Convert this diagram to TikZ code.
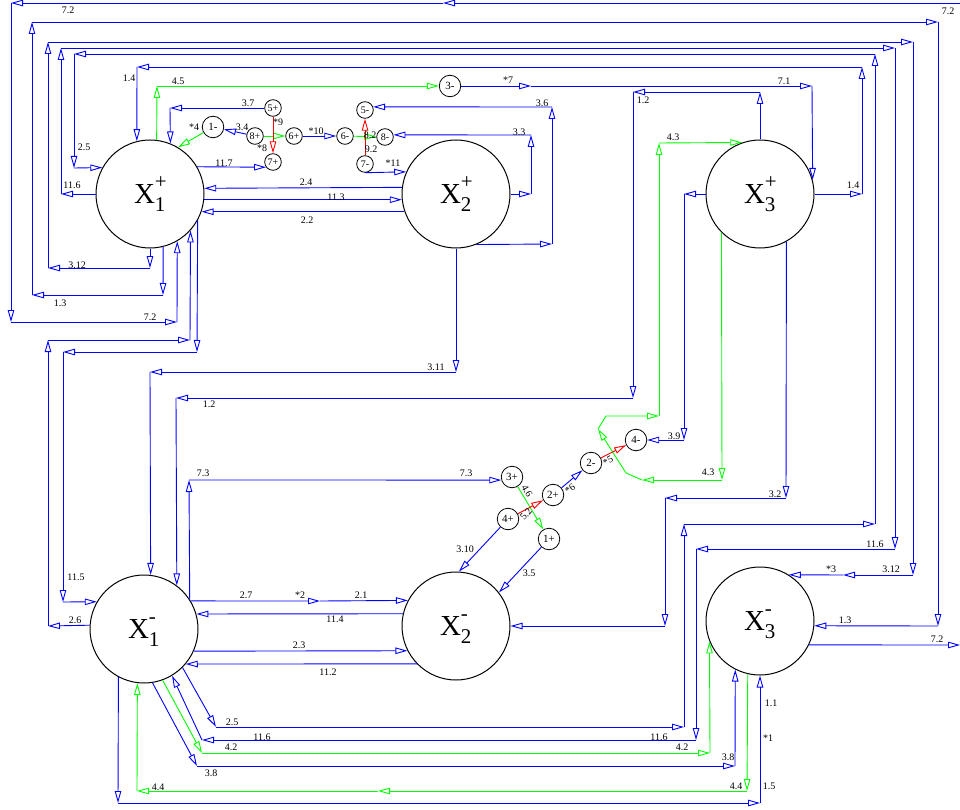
\documentclass[tikz,border=0pt]{standalone}
\usepackage{fontspec}
\setmainfont{Liberation Serif}
\usetikzlibrary{arrows.meta}
\newcommand\pl[2]{\foreach \pt [count=\i, remember=\pt as \lp] in {#2}{\ifnum\i>1\relax\draw[#1] \lp -- \pt;\fi}}
\newcommand\XL[2]{\fontsize{29}{29}\selectfont X\fontsize{21}{21}\selectfont\rlap{\raisebox{-8pt}{#1}}\makebox[11pt][l]{\raisebox{15pt}{\vphantom{+}#2}}}
\begin{document}
\begin{tikzpicture}[x=1pt,y=-1pt,
  tip/.style={-{Triangle[open,length=12pt,width=6.5pt]}},
  bl/.style={draw=blue,line width=0.9pt,tip},
  gn/.style={draw=green,line width=0.9pt,tip},
  gnp/.style={draw=green,line width=0.9pt},
  rd/.style={draw=red,line width=0.9pt,tip},
  big/.style={circle,draw,line width=1pt,minimum size=108pt,inner sep=0pt},
  sm/.style={circle,draw,line width=0.8pt,minimum size=16.6pt,inner sep=0pt,font=\fontsize{10}{10}\selectfont},
  md/.style={circle,draw,line width=0.8pt,minimum size=21.5pt,inner sep=0pt,font=\fontsize{11}{11}\selectfont},
  lab/.style={inner sep=0pt,font=\fontsize{10}{10}\selectfont}]
\useasboundingbox (0,0) rectangle (960,810);
% main nodes
\node[big] (X1p) at (150,194) {\XL{1}{+}};
\node[big] (X2p) at (456,194) {\XL{2}{+}};
\node[big] (X3p) at (760,194) {\XL{3}{+}};
\node[big] (X1m) at (144,629) {\XL{1}{-}};
\node[big] (X2m) at (456,626) {\XL{2}{-}};
\node[big] (X3m) at (760,621) {\XL{3}{-}};
% small nodes
\node[md] (a1m) at (213,127) {1-};
\node[sm] (b5p) at (273,108) {5+};
\node[sm] (b8p) at (255,136) {8+};
\node[sm] (b6p) at (294,136) {6+};
\node[sm] (b7p) at (273,162) {7+};
\node[sm] (b6m) at (345,136) {6-};
\node[sm] (b5m) at (365,110) {5-};
\node[sm] (b8m) at (385,137) {8-};
\node[sm] (b7m) at (365,164) {7-};
\node[md] (c3m) at (450,86) {3-};
\node[md] (c3p) at (512,477) {3+};
\node[md] (c2p) at (553,495) {2+};
\node[md] (c4p) at (508,519) {4+};
\node[md] (c1p) at (549,539) {1+};
\node[md] (c2m) at (591,463) {2-};
\node[md] (c4m) at (636,440) {4-};
% top cluster
\pl{bl}{(b5p.west), (170,108), (X1p.68.3)}
\pl{gn}{(a1m), (X1p.59)}
\pl{bl}{(b8p), (a1m)}
\pl{gn}{(b8p), (b6p)}
\pl{rd}{(b5p), (b7p)}
\pl{bl}{(b6p), (b6m)}
\pl{gn}{(b6m), (b8m)}
\pl{rd}{(b7m), (b5m)}
\pl{bl}{(b7m.south), (X2p.156.3)}
\pl{bl}{(X1p.30), (b7p.217)}
\pl{gn}{(X1p.83), (157,86), (c3m.west)}
\pl{bl}{(c3m.east), (531,86), (812,86), (X3p.15.6)}
% X1+ <-> X2+
\pl{bl}{(X2p.173.6), (X1p.6.4)}
\pl{bl}{(X1p.-6.4), (X2p.186.4)}
\pl{bl}{(X2p.199.5), (X1p.-19.5)}
\pl{bl}{(X2p.east), (531,194), (531,135), (b8m.14)}
\pl{bl}{(X2p.-68), (552,244), (552,107), (b5m.21)}
\pl{bl}{(X2p.south), (456,372), (150,372), (X1m.83.6)}
% X3+
\pl{bl}{(X3p.east), (862,194), (862,67), (137,67), (X1p.104)}
\pl{bl}{(X3p.north), (760,92), (633,92), (633,398), (176,398), (X1m.53.7)}
\pl{gn}{(X3p.225.3), (722,480), (642,480)}
\draw[gn] (642,480) -- (626,473) -- (598,429);
\draw[gn] (598,429) -- (606,416) -- (659,416);
\pl{gn}{(659,416), (659,143), (X3p.109.2)}
\pl{bl}{(X3p.west), (684,194), (684,440), (c4m.east)}
\pl{bl}{(X3p.-61.2), (786,498), (665,498), (665,626), (X2m.east)}
% long wrap-around edges
\pl{bl}{(X1m.-45.7), (216,727), (684,727), (684,524), (875,524), (875,54), (74,54), (74,168), (X1p.151.2)}
\pl{bl}{(X1p.west), (61,194), (61,48), (895,48), (895,549), (696,549), (696,740), (202,740), (X1m.-59.7)}
\pl{bl}{(X1p.south), (150,268), (48,268), (48,42), (913,42), (913,575), (843,575), (X3m.58.4)}
\pl{bl}{(X1p.-76.1), (163,295), (32,295), (32,22), (938,22), (938,626), (X3m.-5.3)}
\pl{bl}{(X3m.-26.4), (960,645)}
\pl{bl}{(960,3), (443,3), (11,3), (11,322), (177,322), (X1p.-60)}
\pl{bl}{(X1p.-29.4), (197,352), (63,352), (63,602), (X1m.150)}
\pl{bl}{(X1m.176.8), (48,626), (48,340), (190,340), (X1p.-42.2)}
% X1- 
\pl{bl}{(X1m.33.6), (189,480), (c3p.196.6)}
\pl{bl}{(X1m.31.2), (320,601), (X2m.152.4)}
\pl{bl}{(X2m.167.2), (X1m.16.1)}
\pl{bl}{(X1m.-24), (X2m.207.6)}
\pl{bl}{(X2m.224.7), (X1m.-40.4)}
\pl{gn}{(X1m.-70.9), (202,753), (710,753), (X3m.202.2)}
\pl{bl}{(X1m.-81.6), (197,766), (735,766), (X3m.-117.6)}
\pl{gn}{(X3m.-103.9), (747,791), (378,791), (137,791), (X1m.-97.4)}
\pl{bl}{(X1m.-118.8), (118,803), (760,803), (X3m.south)}
% bottom cluster
\pl{gn}{(c3p), (c1p)}
\pl{rd}{(c4p), (c2p)}
\pl{bl}{(c2p), (c2m)}
\pl{rd}{(c2m), (c4m)}
\pl{bl}{(c4p), (X2m.87)}
\pl{bl}{(c1p), (X2m.38.3)}
% labels
\node[lab] (l1) at (68,10) {7.2};
\node[lab] (l2) at (948,11) {7.2};
\node[lab] (l3) at (150,317) {7.2};
\node[lab] (l4) at (937,639) {7.2};
\node[lab] (l5) at (129,78) {1.4};
\node[lab] (l6) at (853,185) {1.4};
\node[lab] (l7) at (178,81) {4.5};
\node[lab] (l8) at (248,103) {3.7};
\node[lab] (l9) at (194,127) {*4};
\node[lab] (l10) at (242,127) {3.4};
\node[lab] (l11) at (278,122) {*9};
\node[lab] (l12) at (262,148) {*8};
\node[lab] (l13) at (316,131) {*10};
\node[lab] (l14) at (370,135) {8.2};
\node[lab] (l15) at (371,149) {9.2};
\node[lab] (l16) at (393,163) {*11};
\node[lab] (l17) at (224,163) {11.7};
\node[lab] (l18) at (84,147) {2.5};
\node[lab] (l19) at (232,722) {2.5};
\node[lab] (l20) at (72,185) {11.6};
\node[lab] (l21) at (875,544) {11.6};
\node[lab] (l22) at (659,737) {11.6};
\node[lab] (l23) at (262,737) {11.6};
\node[lab] (l24) at (306,182) {2.4};
\node[lab] (l25) at (336,197) {11.3};
\node[lab] (l26) at (307,220) {2.2};
\node[lab] (l27) at (77,265) {3.12};
\node[lab] (l28) at (891,569) {3.12};
\node[lab] (l29) at (60,303) {1.3};
\node[lab] (l30) at (845,620) {1.3};
\node[lab] (l31) at (831,569) {*3};
\node[lab] (l32) at (436,367) {3.11};
\node[lab] (l33) at (209,404) {1.2};
\node[lab] (l34) at (643,100) {1.2};
\node[lab] (l35) at (542,103) {3.6};
\node[lab] (l36) at (519,132) {3.3};
\node[lab] (l37) at (508,80) {*7};
\node[lab] (l38) at (784,81) {7.1};
\node[lab] (l39) at (673,137) {4.3};
\node[lab] (l40) at (708,472) {4.3};
\node[lab] (l41) at (674,436) {3.9};
\node[lab] (l42) at (775,494) {3.2};
\node[lab] (l43) at (76,577) {11.5};
\node[lab] (l44) at (75,620) {2.6};
\node[lab] (l45) at (246,595) {2.7};
\node[lab] (l46) at (300,595) {*2};
\node[lab] (l47) at (361,595) {2.1};
\node[lab] (l48) at (335,619) {11.4};
\node[lab] (l49) at (299,645) {2.3};
\node[lab] (l50) at (328,672) {11.2};
\node[lab] (l51) at (465,549) {3.10};
\node[lab] (l52) at (529,573) {3.5};
\node[lab] (l53) at (203,473) {7.3};
\node[lab] (l54) at (466,473) {7.3};
\node[lab,rotate=-60] (l55) at (527,491) {4.6};
\node[lab,rotate=50] (l56) at (526,514) {5.2};
\node[lab,rotate=35] (l57) at (570,489) {*6};
\node[lab,rotate=30] (l58) at (608,461) {*5};
\node[lab] (l59) at (231,747) {4.2};
\node[lab] (l60) at (682,747) {4.2};
\node[lab] (l61) at (211,773) {3.8};
\node[lab] (l62) at (728,757) {3.8};
\node[lab] (l63) at (158,787) {4.4};
\node[lab] (l64) at (736,786) {4.4};
\node[lab] (l65) at (771,703) {1.1};
\node[lab] (l66) at (768,738) {*1};
\node[lab] (l67) at (769,786) {1.5};
\end{tikzpicture}
\end{document}
